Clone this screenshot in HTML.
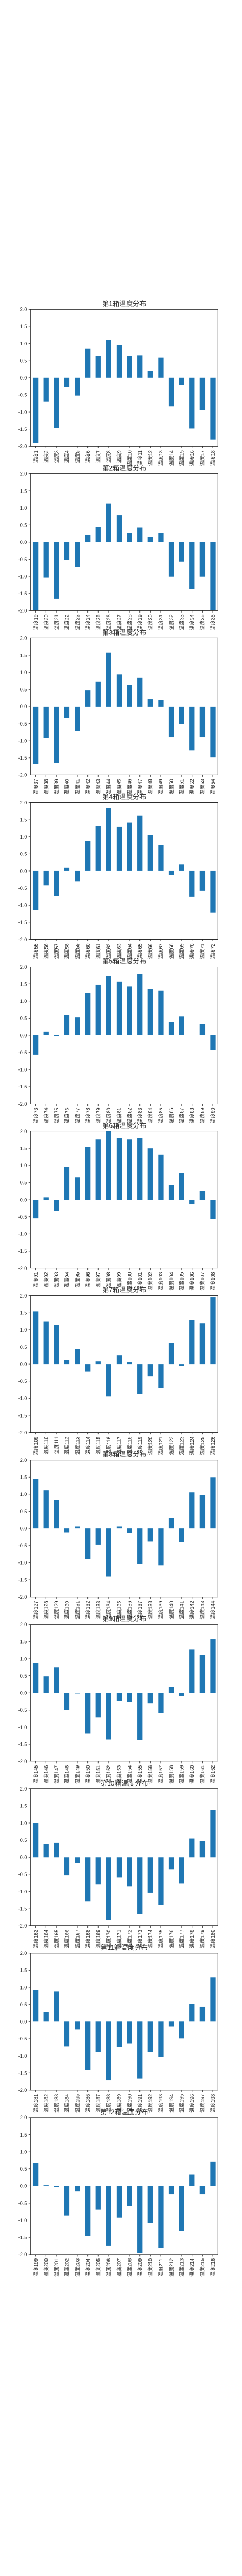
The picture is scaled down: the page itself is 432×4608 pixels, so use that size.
<!DOCTYPE html>
<html><head><meta charset="utf-8">
<style>
html,body{margin:0;padding:0;background:#fff;}
svg{display:block;}
text{font-family:"Liberation Sans","Noto Sans CJK SC",sans-serif;fill:#222;}
</style></head>
<body>
<svg id="chart" width="432" height="4608" viewBox="0 0 432 4608" xmlns="http://www.w3.org/2000/svg"></svg>
<script>
const yTicks = [2.0, 1.5, 1.0, 0.5, 0.0, -0.5, -1.0, -1.5, -2.0];
const yTickLabels = ["2.0","1.5","1.0","0.5","0.0","-0.5","-1.0","-1.5","-2.0"];
const box1 = [-1.91,-0.70,-1.46,-0.27,-0.52,0.85,0.64,1.10,0.96,0.64,0.66,0.20,0.59,-0.84,-0.21,-1.48,-0.95,-1.81];
const box2 = [-2.0,-1.04,-1.65,-0.51,-0.73,0.21,0.44,1.13,0.78,0.27,0.43,0.15,0.26,-1.01,-0.57,-1.37,-1.01,-2.0];
const box3 = [-1.67,-0.92,-1.65,-0.34,-0.71,0.47,0.72,1.57,0.94,0.62,0.85,0.21,0.18,-0.90,-0.51,-1.28,-0.90,-1.49];
const box4 = [-1.13,-0.43,-0.73,0.10,-0.30,0.88,1.32,1.84,1.29,1.41,1.62,1.06,0.76,-0.13,0.19,-0.75,-0.57,-1.22];
const box5 = [-0.57,0.10,-0.03,0.60,0.52,1.24,1.47,1.74,1.57,1.43,1.78,1.35,1.31,0.39,0.55,0.0,0.34,-0.44];
const box6 = [-0.54,0.06,-0.34,0.96,0.65,1.55,1.76,2.0,1.80,1.76,1.81,1.50,1.31,0.44,0.78,-0.13,0.26,-0.57];
const box7 = [1.53,1.25,1.14,0.13,0.43,-0.22,0.08,-0.95,0.26,0.05,-0.87,-0.36,-0.69,0.62,-0.05,1.29,1.19,1.96];
const box8 = [1.45,1.11,0.82,-0.12,0.06,-0.88,-0.47,-1.41,0.06,-0.13,-1.03,-0.38,-1.08,0.31,-0.39,1.06,0.98,1.50];
const box9 = [0.88,0.49,0.75,-0.49,-0.02,-1.18,-0.72,-1.36,-0.24,-0.26,-1.37,-0.31,-0.59,0.18,-0.08,1.27,1.11,1.57];
const box10 = [1.00,0.39,0.43,-0.52,-0.16,-1.29,-0.80,-1.83,-0.59,-0.85,-1.65,-1.04,-1.39,-0.36,-0.77,0.55,0.47,1.39];
const box11 = [0.92,0.27,0.88,-0.72,-0.23,-1.41,-0.88,-1.71,-0.73,-0.64,-1.67,-0.88,-1.04,-0.15,-0.49,0.52,0.43,1.29];
const box12 = [0.66,0.02,-0.04,-0.87,-0.16,-1.45,-0.69,-1.74,-0.92,-0.59,-1.96,-1.08,-1.81,-0.24,-1.31,0.34,-0.24,0.71];
const boxes = [box1,box2,box3,box4,box5,box6,box7,box8,box9,box10,box11,box12];

const NS = "http://www.w3.org/2000/svg";
const svg = document.getElementById("chart");
const AX_L = 54.3, AX_W = 335, AX_H = 245, TOP0 = 553.3, PITCH = 294.05;
const Y_MIN = -2, Y_MAX = 2;

function mk(tag, attrs, parent){
  const e = document.createElementNS(NS, tag);
  for (const k in attrs) e.setAttribute(k, attrs[k]);
  parent.appendChild(e);
  return e;
}

boxes.forEach((vals, bi) => {
  const top = TOP0 + bi * PITCH;
  const yScale = v => top + (Y_MAX - v) / (Y_MAX - Y_MIN) * AX_H;
  const n = vals.length;
  const slot = AX_W / n;
  const xScale = i => AX_L + slot * (i + 0.5);

  const g = mk("g", {}, svg);
  
  

  const title = mk("text", {x: AX_L + AX_W / 2, y: top - 6, "text-anchor": "middle", "font-size": "12"}, g);
  title.textContent = "第" + (bi + 1) + "箱温度分布";
  
  

  vals.forEach((v, i) => {
    const y0 = yScale(0), y1 = yScale(v);
    const r = mk("rect", {x: xScale(i) - slot * 0.25, y: Math.min(y0, y1), width: slot * 0.5, height: Math.abs(y1 - y0), fill: "#1f77b4"}, g);
    
    
  });

  const frame = mk("rect", {x: AX_L, y: top, width: AX_W, height: AX_H, fill: "none", stroke: "#222", "stroke-width": "1"}, g);
  
  

  yTicks.forEach((t, k) => {
    const y = yScale(t);
    const tk = mk("line", {x1: AX_L - 3.5, x2: AX_L, y1: y, y2: y, stroke: "#222", "stroke-width": "0.8"}, g);
    
    
    const lb = mk("text", {x: AX_L - 6, y: y + 3.3, "text-anchor": "end", "font-size": "9"}, g);
    lb.textContent = yTickLabels[k];
    
    
  });

  const bottom = top + AX_H;
  vals.forEach((v, i) => {
    const x = xScale(i);
    const tk = mk("line", {x1: x, x2: x, y1: bottom, y2: bottom + 3.5, stroke: "#222", "stroke-width": "0.8"}, g);
    
    
    const lb = mk("text", {x: 0, y: 0, "text-anchor": "end", "font-size": "9", transform: "translate(" + (x + 3.2) + "," + (bottom + 7) + ") rotate(-90)"}, g);
    lb.textContent = "温度" + (bi * n + i + 1);
    
    
  });
});
</script>
</body></html>
